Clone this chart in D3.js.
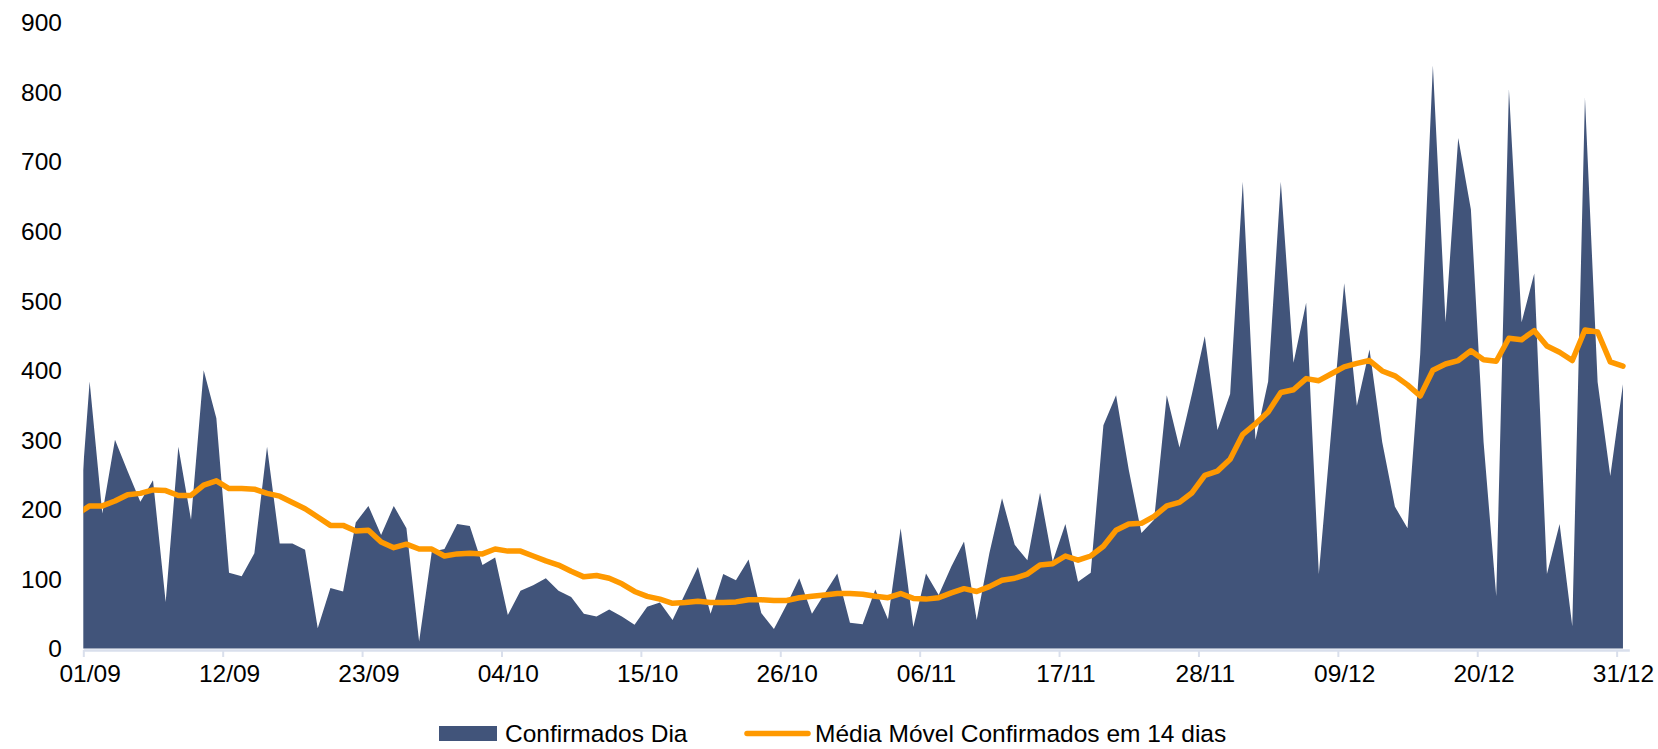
<!DOCTYPE html>
<html>
<head>
<meta charset="utf-8">
<script src="https://cdn.jsdelivr.net/npm/d3@7"></script>
<style>
  body { margin: 0; background: #fff; }
  svg text { font-family: "Liberation Sans", Arial, sans-serif; fill: #000; }
</style>
</head>
<body>
<div class="chart"></div>
<script>
// series starts on 31/08: that first day sits outside the plot and is clipped
var startDate = '2020-08-31';

var confirmados = [140,
	384, 194, 300, 255, 211, 242, 67, 290, 185, 400, 331, 109, 104, 137, 290, 151, 151, 142, 29, 87,
	82, 181, 205, 163, 205, 173, 10, 139, 143, 179, 176, 120, 131, 48, 83, 91, 101, 83, 74, 50,
	46, 56, 46, 34, 60, 66, 41, 79, 117, 50, 107, 98, 128, 51, 28, 63, 101, 50, 79, 108,
	37, 35, 85, 42, 173, 31, 108, 77, 118, 154, 41, 137, 216, 149, 127, 224, 125, 179, 96, 109,
	321, 364, 257, 166, 185, 364, 289, 367, 449, 314, 366, 671, 300, 384, 671, 411, 497, 107, 317, 525,
	349, 430, 297, 204, 173, 423, 838, 469, 734, 631, 297, 75, 804, 469, 539, 107, 179, 32, 792, 383,
	248, 380];

var mediaMovel = [193,
	205, 205, 212, 221, 223, 228, 227, 220, 220, 235, 241, 230, 230, 229, 223, 219, 210, 201, 189, 177,
	177, 169, 170, 153, 145, 150, 143, 143, 133, 136, 137, 136, 143, 140, 140, 133, 126, 120, 111, 103,
	105, 101, 93, 82, 75, 71, 65, 66, 68, 66, 66, 67, 70, 70, 69, 69, 73, 75, 77, 79,
	79, 78, 75, 73, 79, 72, 71, 73, 80, 86, 82, 89, 98, 101, 107, 120, 122, 133, 127, 133,
	147, 170, 179, 180, 190, 205, 210, 224, 249, 255, 272, 308, 323, 340, 368, 372, 388, 385, 395, 405,
	410, 414, 399, 392, 379, 363, 400, 409, 414, 428, 415, 413, 446, 444, 457, 435, 426, 414, 458, 455,
	412, 406];

var tickLabels = ['01/09', '12/09', '23/09', '04/10', '15/10', '26/10', '06/11', '17/11', '28/11', '09/12', '20/12', '31/12'];
var yTicks = [0, 100, 200, 300, 400, 500, 600, 700, 800, 900];

var seriesNames = ['Confirmados Dia', 'Média Móvel Confirmados em 14 dias'];
var colors = ['#41547a', '#ff9900'];

var fullWidth = 1658, fullHeight = 749;
var plotLeft = 83.3, plotRight = 1629.3, plotTop = 22.5, plotBottom = 648.5;

var parse = d3.utcParse('%Y-%m-%d');
var day0 = parse(startDate);

// one point per day, at noon (middle of the day slot)
var data = confirmados.map(function(v, i) {
	return {
		date: d3.utcHour.offset(d3.utcDay.offset(day0, i), 12),
		value: v,
		avg: mediaMovel[i]
	};
});

var firstDay = d3.utcDay.offset(day0, 1);
var endDay = d3.utcDay.offset(day0, confirmados.length);

var svg = d3.select('.chart')
	.append('svg')
	.attr('width', fullWidth)
	.attr('height', fullHeight);

var xScale = d3.scaleUtc()
	.domain([firstDay, endDay])
	.range([plotLeft, plotRight]);

var yScale = d3.scaleLinear()
	.domain([0, 900])
	.range([plotBottom, plotTop]);

svg.append('clipPath')
	.attr('id', 'plot-clip')
	.append('rect')
	.attr('x', plotLeft)
	.attr('y', 0)
	.attr('width', plotRight - plotLeft)
	.attr('height', plotBottom + 1);

var plot = svg.append('g').attr('clip-path', 'url(#plot-clip)');

var area = d3.area()
	.x(function(d) { return xScale(d.date); })
	.y0(yScale(0))
	.y1(function(d) { return yScale(d.value); });

var line = d3.line()
	.x(function(d) { return xScale(d.date); })
	.y(function(d) { return yScale(d.avg); });

plot.append('path')
	.datum(data)
	.attr('d', area)
	.style('fill', colors[0]);

// x axis: ticks on day boundaries, labels in the middle of the day
var tickDates = tickLabels.map(function(t, i) { return d3.utcDay.offset(firstDay, i * 11); });
var halfDay = xScale(d3.utcHour.offset(firstDay, 12)) - xScale(firstDay);

var xAxis = d3.axisBottom(xScale)
	.tickValues(tickDates)
	.tickFormat(function(d, i) { return tickLabels[i]; })
	.tickSizeInner(7)
	.tickSizeOuter(0)
	.tickPadding(8);

var gx = svg.append('g')
	.attr('class', 'xaxis')
	.attr('transform', 'translate(0,' + (plotBottom + 1.5) + ')')
	.call(xAxis);

gx.select('.domain')
	.attr('stroke', '#d9dfec')
	.attr('stroke-width', 2.5);
gx.selectAll('.tick line')
	.attr('stroke', '#d9dfec')
	.attr('stroke-width', 2);
gx.selectAll('.tick text')
	.attr('x', halfDay)
	.attr('dy', '0.71em')
	.style('font-size', '24.5px');

// orange line drawn above the axis, clipped like the area
plot.append('path')
	.datum(data)
	.attr('d', line)
	.style('fill', 'none')
	.style('stroke', colors[1])
	.style('stroke-width', 5.5)
	.style('stroke-linejoin', 'round')
	.style('stroke-linecap', 'round');

var yAxis = d3.axisLeft(yScale)
	.tickValues(yTicks)
	.tickSize(0)
	.tickPadding(0);

var gy = svg.append('g')
	.attr('class', 'yaxis')
	.attr('transform', 'translate(62,0)')
	.call(yAxis);

gy.select('.domain').remove();
gy.selectAll('.tick text')
	.attr('dy', '0.34em')
	.style('font-size', '24.5px');

// legend
var legend = svg.append('g').attr('class', 'legend');

legend.append('rect')
	.attr('x', 439)
	.attr('y', 726)
	.attr('width', 58)
	.attr('height', 15)
	.style('fill', colors[0]);

legend.append('text')
	.attr('x', 505)
	.attr('y', 742)
	.style('font-size', '24.5px')
	.text(seriesNames[0]);

legend.append('line')
	.attr('x1', 747)
	.attr('x2', 808)
	.attr('y1', 733.5)
	.attr('y2', 733.5)
	.style('stroke', colors[1])
	.style('stroke-width', 5.5)
	.style('stroke-linecap', 'round');

legend.append('text')
	.attr('x', 815)
	.attr('y', 742)
	.style('font-size', '24.5px')
	.text(seriesNames[1]);
</script>
</body>
</html>
